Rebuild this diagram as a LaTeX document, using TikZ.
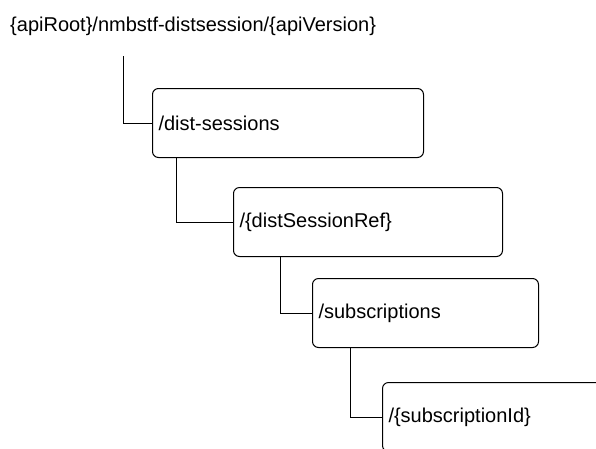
\documentclass[tikz,border=0pt]{standalone}
\usepackage{fontspec}
\setmainfont{Liberation Sans}
\begin{document}
\begin{tikzpicture}[x=1pt,y=-1pt,
  res/.style={draw, line width=1pt, rounded corners=6pt, anchor=north west,
    inner xsep=6pt, inner ysep=0pt, align=left, font=\fontsize{20}{24}\selectfont,
    minimum height=69pt},
  conn/.style={draw, line width=1pt}]
\useasboundingbox (0,0) rectangle (596,448);
\clip (0,0) rectangle (596,448);
\node[anchor=base west, inner sep=0pt, font=\fontsize{20}{24}\selectfont] (root) at (10,31) {\{apiRoot\}/nmbstf-distsession/\{apiVersion\}};
\coordinate (r0) at (123,56);
\node[res, text width=259pt] (b1) at (152,88) {/dist-sessions};
\node[res, text width=257pt] (b2) at (233,187) {/\{distSessionRef\}};
\node[res, text width=214pt] (b3) at (312,278) {/subscriptions};
\node[res, text width=260pt] (b4) at (382,382) {/\{subscriptionId\}};
\draw[conn] (r0) |- (b1.west);
\draw[conn] ([xshift=24pt]b1.south west) |- (b2.west);
\draw[conn] ([xshift=47pt]b2.south west) |- (b3.west);
\draw[conn] ([xshift=38pt]b3.south west) |- (b4.west);
\end{tikzpicture}
\end{document}
